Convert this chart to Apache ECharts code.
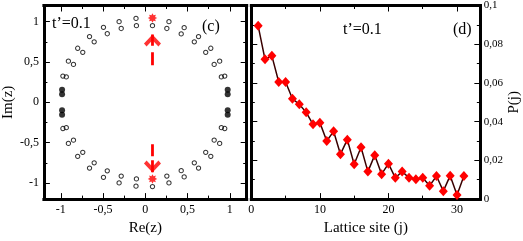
<!DOCTYPE html>
<html><head><meta charset="utf-8">
<script src="https://cdn.jsdelivr.net/npm/echarts@6/dist/echarts.min.js"></script>
<style>html,body{margin:0;padding:0;background:#fff}#c{width:523px;height:241px}</style>
</head><body><div id="c"></div>
<script>
// ---- data: panel (c) eigenvalues in complex plane ----
const openRe = [
  -0.11, -0.105, -0.31, -0.285, -0.495, -0.45, -0.66, -0.605, -0.80, -0.74, -0.91, -0.85, -0.975, -0.935,
  0.085, 0.28, 0.255, 0.46, 0.425, 0.63, 0.58, 0.775, 0.715, 0.88, 0.815, 0.94, 0.90,
  -0.11, -0.105, -0.31, -0.285, -0.495, -0.45, -0.66, -0.605, -0.80, -0.74, -0.91, -0.85, -0.975, -0.935,
  0.085, 0.28, 0.255, 0.46, 0.425, 0.63, 0.58, 0.775, 0.715, 0.88, 0.815, 0.94, 0.90
];
const openIm = [
  1.04, 0.95, 1.0, 0.915, 0.93, 0.85, 0.815, 0.75, 0.67, 0.62, 0.51, 0.47, 0.325, 0.315,
  0.95, 1.0, 0.915, 0.925, 0.848, 0.815, 0.75, 0.67, 0.62, 0.51, 0.47, 0.325, 0.315,
  -1.04, -0.95, -1.0, -0.915, -0.93, -0.85, -0.815, -0.75, -0.67, -0.62, -0.51, -0.47, -0.325, -0.315,
  -1.045, -1.0, -0.915, -0.925, -0.848, -0.815, -0.75, -0.67, -0.62, -0.51, -0.47, -0.325, -0.315
];
const filledRe = [-0.985, -0.985, 0.975, 0.975, -0.985, -0.985, 0.975, 0.975];
const filledIm = [0.155, 0.10, 0.155, 0.10, -0.10, -0.155, -0.10, -0.155];
const starRe = [0.085, 0.085];
const starIm = [1.045, -0.95];
// arrows: re, start im, tip im
const arrowUpRe = 0.085, arrowUpFrom = 0.46, arrowUpTip = 0.84;
const arrowDnRe = 0.085, arrowDnFrom = -0.52, arrowDnTip = -0.87;

// ---- data: panel (d) P(j) vs lattice site ----
const sites = [1,2,3,4,5,6,7,8,9,10,11,12,13,14,15,16,17,18,19,20,21,22,23,24,25,26,27,28,29,30,31];
const prob = [0.0895, 0.0722, 0.074, 0.0605, 0.0605, 0.0518, 0.049, 0.0448, 0.0386, 0.0395,
  0.030, 0.035, 0.0232, 0.0307, 0.018, 0.0268, 0.0142, 0.0227, 0.0129, 0.0183,
  0.011, 0.0142, 0.011, 0.0103, 0.011, 0.0069, 0.0119, 0.0041, 0.0121, 0.0021, 0.0119];

// ---- ticks ----
const cMajor = [-1, -0.5, 0, 0.5, 1];
const cMinor = [-0.75, -0.25, 0.25, 0.75];
const siteMajor = [0, 10, 20, 30];
const siteMinor = [5, 15, 25];
const pMajor = [0, 0.02, 0.04, 0.06, 0.08, 0.1];
const pMinor = [0.01, 0.03, 0.05, 0.07, 0.09];

const FONT = "'Liberation Serif','DejaVu Serif',serif";
const fmt = v => String(+(+v).toFixed(4)).replace('.', ',');

function pair(grid, position, min, max, major, minor, label, nameOpt) {
  const base = {gridIndex: grid, type: 'value', position, min, max,
    splitLine: {show: false}, axisPointer: {show: false}};
  const main = Object.assign({}, base, {
    axisLine: {show: true, onZero: false, lineStyle: {color: '#000', width: 3, cap: 'square'}},
    axisTick: {show: true, inside: true, length: 6, customValues: major, lineStyle: {color: '#000', width: 1}},
    axisLabel: label ? Object.assign({show: true, customValues: major, formatter: fmt, color: '#000',
      fontFamily: FONT}, label) : {show: false}
  }, nameOpt || {});
  const mn = Object.assign({}, base, {
    axisLine: {show: false, onZero: false},
    axisTick: {show: true, inside: true, length: 3.5, customValues: minor, lineStyle: {color: '#000', width: 1}},
    axisLabel: {show: false}
  });
  return [main, mn];
}
const nameStyle = {color: '#000', fontFamily: FONT, fontSize: 15};

const xAxis = [
  ...pair(0, 'bottom', -1.2, 1.2, cMajor, cMinor, {fontSize: 12, margin: 5},
    {name: 'Re(z)', nameLocation: 'middle', nameGap: 17, nameTextStyle: nameStyle}),
  ...pair(0, 'top', -1.2, 1.2, cMajor, cMinor, null),
  ...pair(1, 'bottom', 0, 33.4, siteMajor, siteMinor, {fontSize: 12, margin: 5},
    {name: 'Lattice site (j)', nameLocation: 'middle', nameGap: 16, nameTextStyle: nameStyle}),
  ...pair(1, 'top', 0, 33.4, siteMajor, siteMinor, null)
];
const yAxis = [
  ...pair(0, 'left', -1.2, 1.2, cMajor, cMinor, {fontSize: 12, margin: 5},
    {name: 'Im(z)', nameLocation: 'middle', nameRotate: 90, nameGap: 25, nameTextStyle: nameStyle}),
  ...pair(0, 'right', -1.2, 1.2, cMajor, cMinor, null),
  ...pair(1, 'left', 0, 0.1, pMajor, pMinor, null),
  ...pair(1, 'right', 0, 0.1, pMajor, pMinor, {fontSize: 11, margin: 3.5},
    {name: 'P(j)', nameLocation: 'middle', nameRotate: 90, nameGap: 20, nameTextStyle: nameStyle})
];

// symbols
let star = 'path://';
for (let k = 0; k < 16; k++) {
  const a = k * Math.PI / 8, r = (k % 2 === 0) ? 10 : 6;
  star += (k === 0 ? 'M' : 'L') + (10 + r * Math.sin(a)).toFixed(2) + ' ' + (10 - r * Math.cos(a)).toFixed(2);
}
star += 'Z';
const chevron = 'path://M8 0L16 8L13.6 10.6L8 5L2.4 10.6L0 8Z';

const zip = (a, b) => a.map((v, i) => [v, b[i]]);

const series = [
  {type: 'scatter', xAxisIndex: 0, yAxisIndex: 0, data: zip(openRe, openIm), symbol: 'circle', symbolSize: 4.3,
    itemStyle: {color: 'rgba(0,0,0,0)', borderColor: '#000', borderWidth: 1}, silent: true},
  {type: 'scatter', xAxisIndex: 0, yAxisIndex: 0, data: zip(filledRe, filledIm), symbol: 'circle', symbolSize: 6,
    itemStyle: {color: '#000'}, silent: true},
  {type: 'scatter', xAxisIndex: 0, yAxisIndex: 0, data: zip(starRe, starIm), symbol: star, symbolSize: 9.5,
    itemStyle: {color: '#ff0000'}, silent: true},
  {type: 'line', xAxisIndex: 0, yAxisIndex: 0, data: [[arrowUpRe, arrowUpFrom], [arrowUpRe, arrowUpTip]],
    symbol: 'none', lineStyle: {color: '#ff0000', width: 2.8, type: [13, 6.5]}, silent: true},
  {type: 'line', xAxisIndex: 0, yAxisIndex: 0, data: [[arrowDnRe, arrowDnFrom], [arrowDnRe, arrowDnTip]],
    symbol: 'none', lineStyle: {color: '#ff0000', width: 2.8, type: [12, 4]}, silent: true},
  {type: 'scatter', xAxisIndex: 0, yAxisIndex: 0, data: [[arrowUpRe, arrowUpTip]], symbol: chevron,
    symbolSize: [17, 12], symbolOffset: [0, '50%'], itemStyle: {color: '#ff0000'}, silent: true},
  {type: 'scatter', xAxisIndex: 0, yAxisIndex: 0, data: [[arrowDnRe, arrowDnTip]], symbol: chevron,
    symbolSize: [17, 12], symbolRotate: 180, symbolOffset: [0, '-50%'], itemStyle: {color: '#ff0000'}, silent: true},
  {type: 'line', xAxisIndex: 4, yAxisIndex: 6, data: zip(sites, prob), symbol: 'diamond', symbolSize: [9, 10],
    showAllSymbol: true, itemStyle: {color: '#ff0000'}, lineStyle: {color: '#3a0000', width: 1.5}, silent: true}
];

const txt = (text, x, y) => ({type: 'text', x, y, silent: true,
  style: {text, fill: '#000', fontSize: 16, fontFamily: FONT, align: 'left', verticalAlign: 'middle'}});

const chart = echarts.init(document.getElementById('c'), null, {renderer: 'canvas'});
chart.setOption({
  animation: false,
  backgroundColor: '#fff',
  grid: [
    {left: 39.2, right: 276.3, top: 5.5, bottom: 32.3},
    {left: 251.3, right: 34.7, top: 5.5, bottom: 32}
  ],
  xAxis, yAxis, series,
  graphic: [
    txt('t\u2019=0.1', 52, 24),
    txt('(c)', 202, 26.5),
    txt('t\u2019=0.1', 343, 29.5),
    txt('(d)', 453, 29.5)
  ]
});
</script></body></html>
